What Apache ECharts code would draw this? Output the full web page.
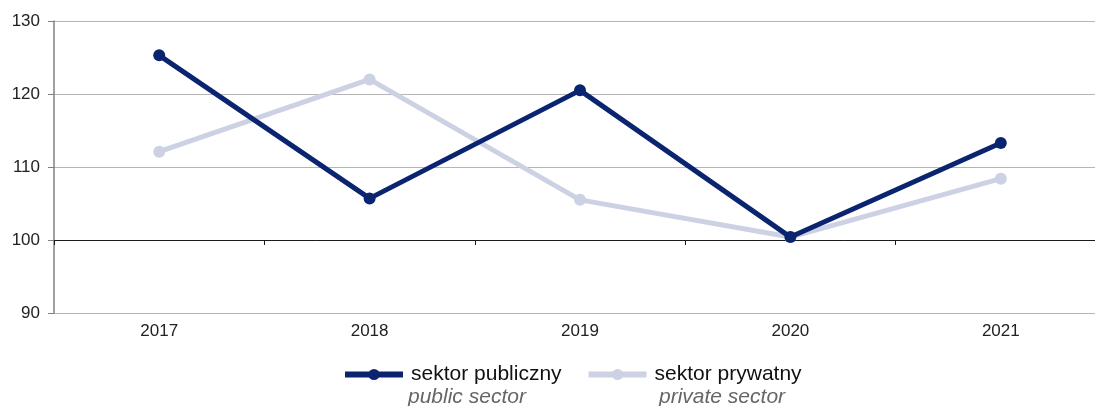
<!DOCTYPE html>
<html>
<head>
<meta charset="utf-8">
<script src="https://cdn.jsdelivr.net/npm/echarts@6/dist/echarts.min.js"></script>
<style>
  html, body { margin: 0; padding: 0; background: #ffffff; overflow: hidden; }
  #chart { width: 1106px; height: 406px; }
</style>
</head>
<body>
<div id="chart"></div>
<script>
// dane
const years = ["2017", "2018", "2019", "2020", "2021"];
const publicSector = [125.3, 105.7, 120.5, 100.4, 113.3];
const privateSector = [112.1, 122.0, 105.5, 100.4, 108.4];
const seriesNames = ["sektor publiczny", "sektor prywatny"];
const seriesNamesEn = ["public sector", "private sector"];

const font = "'Liberation Sans', Arial, sans-serif";
var myChart = echarts.init(document.getElementById("chart"));

var option = {
  animation: false,
  textStyle: { fontFamily: font },
  // wykres szerszy niz okno - ostatnia kategoria ucieta jak w oryginale
  grid: {
    left: 54,
    right: 0,
    top: 21,
    bottom: 93,
    containLabel: false,
  },
  legend: {
    data: seriesNames,
    left: 342,
    top: 364,
    padding: 0,
    itemWidth: 58,
    itemHeight: 14,
    itemGap: 24,
    lineStyle: { width: 6 },
    textStyle: {
      color: "#111111",
      fontSize: 21,
      fontFamily: font,
      padding: [0, 0, 0, 3],
    },
  },
  xAxis: [
    {
      type: "category",
      data: years,
      axisLine: { show: false },
      axisTick: { show: false },
      axisLabel: {
        color: "#222222",
        fontSize: 17,
        margin: 10,
      },
    },
    {
      // linia osi na poziomie 100
      type: "category",
      data: years,
      position: "bottom",
      offset: -73,
      axisLine: { show: true, lineStyle: { color: "#1a1a1a", width: 1 } },
      axisTick: { show: true, length: 5, lineStyle: { color: "#1a1a1a" } },
      axisLabel: { show: false },
    },
  ],
  yAxis: {
    type: "value",
    min: 90,
    max: 130,
    interval: 10,
    axisLine: { show: true, lineStyle: { color: "#808080", width: 1.5 } },
    axisTick: { show: true, length: 6, lineStyle: { color: "#808080" } },
    axisLabel: { color: "#222222", fontSize: 17, margin: 14 },
    splitLine: { lineStyle: { color: "#b5b5b5", width: 1 } },
  },
  series: [
    {
      name: seriesNames[1],
      type: "line",
      data: privateSector,
      color: "#ccd1e4",
      symbol: "circle",
      symbolSize: 12,
      lineStyle: { width: 5 },
      z: 2,
    },
    {
      name: seriesNames[0],
      type: "line",
      data: publicSector,
      color: "#0b2470",
      symbol: "circle",
      symbolSize: 12,
      lineStyle: { width: 5 },
      z: 3,
    },
  ],
  graphic: [
    {
      type: "text",
      left: 408,
      top: 387,
      style: { text: seriesNamesEn[0], fill: "#666666", font: "italic 21px " + font },
    },
    {
      type: "text",
      left: 659,
      top: 387,
      style: { text: seriesNamesEn[1], fill: "#666666", font: "italic 21px " + font },
    },
  ],
};
myChart.setOption(option);
</script>
</body>
</html>
